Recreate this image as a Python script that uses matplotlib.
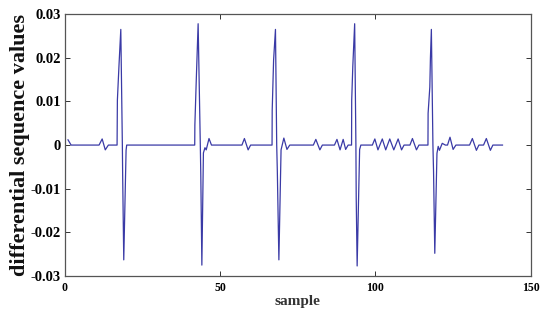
import matplotlib
matplotlib.use('Agg')
import matplotlib.pyplot as plt

# breakpoints of the differential sequence (sample index, value)
samples = [1, 2,
           11, 12, 13, 14,
           16.8, 16.9, 17.4, 18.0, 18.5, 18.6, 18.95, 19.7, 19.9,
           41.8, 41.85, 42.3, 42.9, 43.6, 43.75, 44.1, 44.6, 45.1, 45.5, 46.4, 47.2,
           57.0, 57.8, 59.0, 59.8,
           66.7, 66.75, 67.2, 67.8, 68.2, 68.4, 68.9, 69.6, 70.5, 71.5, 72.4,
           80.0, 80.8, 82.1, 82.9,
           86.8, 87.6, 88.6, 89.6, 90.4, 91.2,
           92.3, 92.35, 92.7, 93.3, 93.7, 93.8, 94.1, 94.9, 95.3,
           99.0, 99.8, 100.8, 102.2, 103.3, 104.6, 105.9, 107.3, 108.4, 109.2,
           111.1, 111.9, 113.2, 114.0,
           116.9, 116.95, 117.5, 117.7, 118.0, 118.5, 118.7, 119.1, 119.8, 120.2, 120.6, 121.5, 122.5,
           123.2, 124.0, 125.0, 125.9,
           130.3, 131.2, 132.5, 133.3,
           134.8, 135.7, 137.0, 137.8, 140.9]
diff_values = [0.0012, 0,
               0, 0.0014, -0.0011, 0,
               0, 0.0103, 0.018, 0.0265, 0.0, -0.007, -0.0263, -0.0012, 0,
               0, 0.0046, 0.0149, 0.0278, 0.0, -0.0064, -0.0275, -0.0018, -0.0006, -0.0011, 0.0015, 0,
               0, 0.0015, -0.0011, 0,
               0, 0.008, 0.0195, 0.0265, 0.0, -0.006, -0.0263, -0.0011, 0.0016, -0.001, 0,
               0, 0.0013, -0.0011, 0,
               0, 0.0013, -0.0011, 0.0013, -0.001, 0,
               0, 0.0103, 0.018, 0.0278, 0.0, -0.012, -0.0277, -0.001, 0,
               0, 0.0014, -0.0011, 0.0014, -0.0011, 0.0014, -0.0011, 0.0014, -0.0011, 0,
               0, 0.0015, -0.0011, 0,
               0, 0.0073, 0.0133, 0.02, 0.0265, 0.0, -0.006, -0.0248, -0.0019, -0.0003, -0.0012, 0.0004, 0,
               0, 0.0018, -0.001, 0,
               0, 0.0015, -0.0012, 0,
               0, 0.0015, -0.0012, 0, 0]

x_ticks = [0, 50, 100, 150]
y_ticks = [-0.03, -0.02, -0.01, 0, 0.01, 0.02, 0.03]
y_tick_labels = ['-0.03', '-0.02', '-0.01', '0', '0.01', '0.02', '0.03']

plt.rcParams['font.family'] = ['Liberation Serif', 'DejaVu Serif']

fig = plt.figure(figsize=(5.5, 3.14), dpi=100)
ax = fig.add_axes([0.118, 0.121, 0.847, 0.834])
ax.plot(samples, diff_values, color='#3a3aa6', linewidth=0.9)

ax.set_xlim(0, 150)
ax.set_ylim(-0.03, 0.03)
ax.set_xticks(x_ticks)
ax.set_xticklabels([str(t) for t in x_ticks], fontsize=8.5, fontweight='bold')
ax.set_yticks(y_ticks)
ax.set_yticklabels(y_tick_labels, fontsize=10.5, fontweight='bold')
ax.tick_params(direction='in', length=3.5, width=0.7, color='#333333',
               top=True, right=True, pad=3)
ax.tick_params(axis='x', pad=4)
for spine in ax.spines.values():
    spine.set_color('#555555')
    spine.set_linewidth(0.9)

ax.set_xlabel('sample', fontsize=11, fontweight='bold', color='#333333', labelpad=1)
ax.set_ylabel('differential sequence values', fontsize=16, fontweight='bold',
              color='#111111')
ax.yaxis.set_label_coords(-0.075, 0.5)

fig.savefig('out.png', dpi=100)
